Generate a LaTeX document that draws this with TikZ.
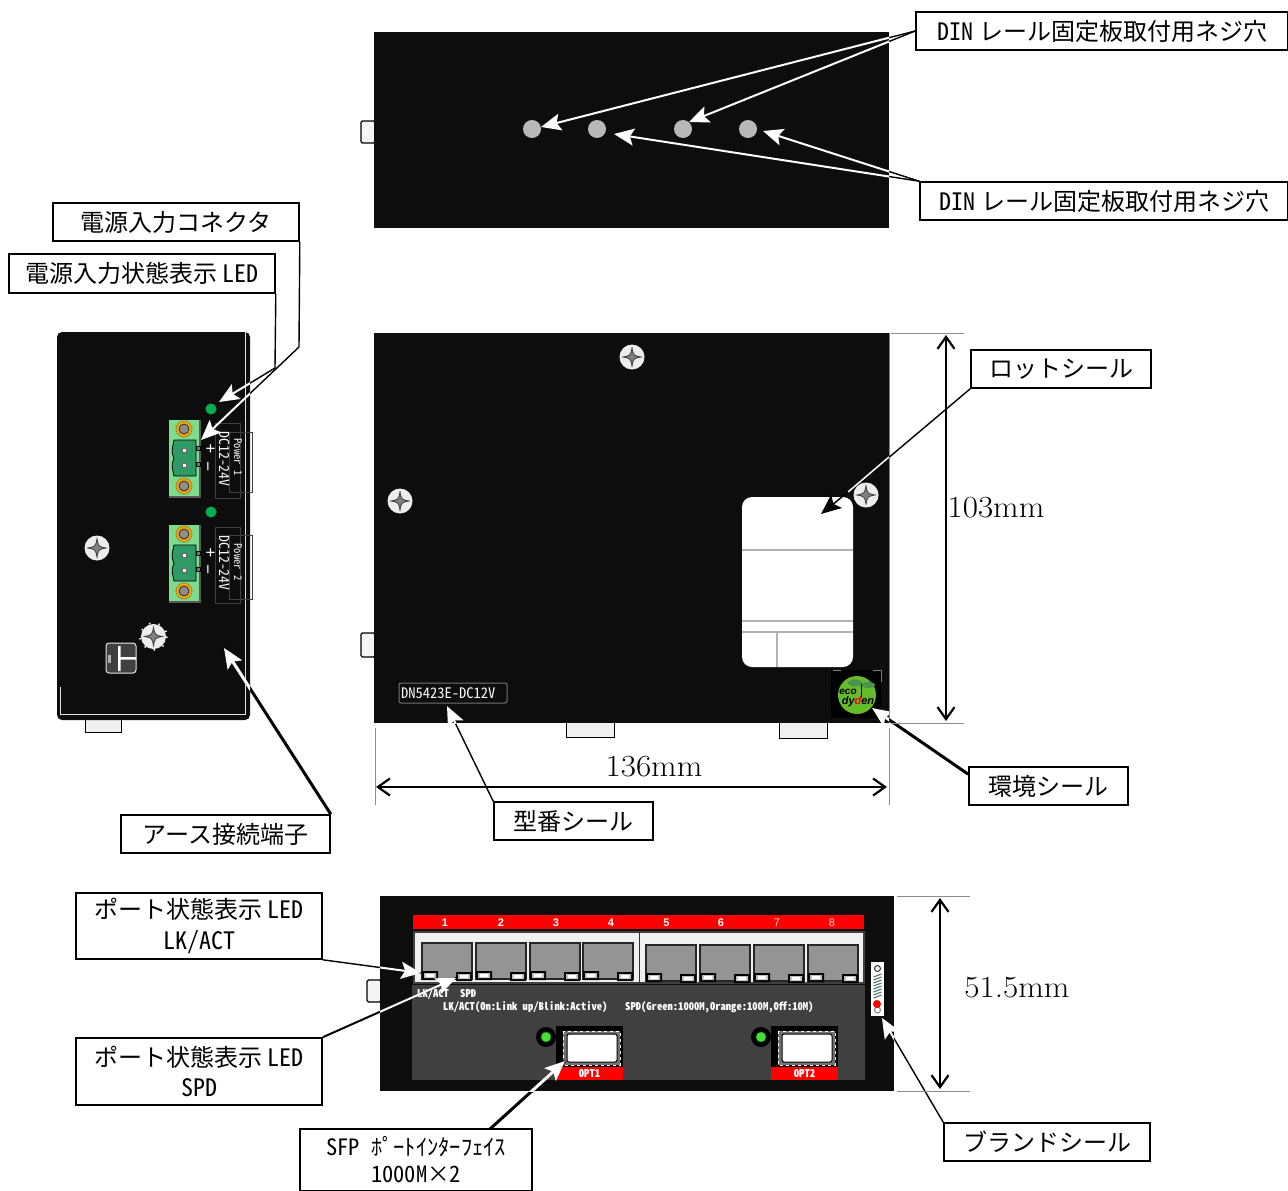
\documentclass[tikz,border=0pt]{standalone}
\usepackage{fontspec}
\usetikzlibrary{arrows.meta}
\newfontfamily\jp{Noto Sans CJK JP}
\newfontfamily\hw[RawFeature=+hwid]{Noto Sans CJK JP}
\newfontfamily\logofont{Liberation Sans}
\definecolor{dev}{HTML}{0D0D0D}
\definecolor{panel}{HTML}{404040}
\definecolor{conn}{HTML}{7EDC8F}
\definecolor{connd}{HTML}{2F9A66}
\definecolor{gear}{HTML}{E8A818}
\definecolor{ledg}{HTML}{00B050}
\definecolor{sfpg}{HTML}{48E038}
\definecolor{ecog}{HTML}{66BB2A}
\definecolor{spring}{HTML}{4F7272}
\newcommand\dimtxt[1]{\scalebox{1.08}[1]{#1}}
\tikzset{
  x=1pt,y=-1pt,
  label box/.style={draw=black,line width=1.6pt,fill=white,inner sep=0pt,font=\jp\fontsize{24}{29}\selectfont,align=center},
  dim text/.style={inner sep=0pt,font=\fontsize{30.7}{32}\selectfont},
  dim line/.style={draw=black!45,line width=1pt},
  dim arrow/.style={draw=black,line width=2.6pt,{Straight Barb[length=12pt,width=17pt,line width=2.2pt]}-{Straight Barb[length=12pt,width=17pt,line width=2.2pt]}},
  lead thin/.style={draw=black,line width=1.4pt},
  lead white/.style={draw=white,line width=2pt,-{Stealth[length=20pt,width=17pt,inset=4pt,fill=white]}},
  lead thick/.style={line width=3pt},
  tabbox/.style={draw=black,line width=1pt,fill=black!6},
  bump/.style={draw=black,line width=1.3pt,fill=black!4,rounded corners=1.5pt},
  tiny white/.style={text=white,inner sep=0pt,font=\hw\bfseries\fontsize{10.6}{12}\selectfont},
  port num/.style={text=white,inner sep=0pt,font=\logofont\bfseries\fontsize{11}{11}\selectfont},
  rot small/.style={text=white,inner sep=0pt,rotate=-90,font=\hw\fontsize{10.6}{12}\selectfont},
  rot big/.style={text=white,inner sep=0pt,rotate=-90,font=\hw\fontsize{13.8}{15}\selectfont},
  sign/.style={text=white,inner sep=0pt,font=\logofont\fontsize{17}{17}\selectfont},
  screw/.pic={
    \fill[black!7] (0,0) circle[radius=12.5];
    \fill[black!50,draw=black!75,line width=.8pt] (0,-9) .. controls (1.5,-1.5) .. (9,0) .. controls (1.5,1.5) .. (0,9) .. controls (-1.5,1.5) .. (-9,0) .. controls (-1.5,-1.5) .. (0,-9) -- cycle;
  },
  geardot/.pic={
    \fill[gear] (0,0) circle[radius=8];
    \draw[gear!70!black,line width=1.2pt,dash pattern=on 1pt off 1pt] (0,0) circle[radius=8];
    \fill[black!45,draw=black,line width=.5pt] (0,0) circle[radius=5];
  },
  terminal/.pic={
    \fill[conn] (0,0) rectangle (31,77);
    \draw[black!65,line width=1.2pt] (0,77) -- (31,77) -- (31,0);
    \fill[connd,draw=black,line width=.8pt] (5,20) -- (27,20) -- (27,56) -- (5,56) .. controls (3,46) and (2,46) .. (5,38.5) .. controls (2,30) and (3,30) .. (5,20) -- cycle;
    \draw[black,line width=.6pt,fill=connd] (27,26) rectangle (31,30) (27,42) rectangle (31,46);
    \fill[white,draw=black!60,line width=.4pt] (13,28) rectangle (17,32) (13,43) rectangle (17,47);
    \pic at (15,9) {geardot};
    \pic at (15,66) {geardot};
  },
  jack/.pic={
    \fill[black!42,draw=black!85,line width=1.4pt] (0,0) -- (50,0) -- (50,36) -- (0,36) -- cycle;
    \fill[black] (0,28) rectangle (16,37) (34,29) rectangle (50,38);
    \fill[black!25] (2,30) rectangle (14,35) (36,31) rectangle (48,36);
    \fill[white] (4,31) rectangle (12,34) (38,32) rectangle (46,35);
  },
  sfp/.pic={
    \fill[black] (-10,9) circle[radius=10];
    \fill[black] (0,-2) rectangle (67,39);
    \fill[sfpg,draw=black!40!green,line width=.5pt] (-10,9) circle[radius=5];
    \fill[black!55] (7,3) rectangle (64,37);
    \draw[white,line width=1pt,dash pattern=on 3pt off 3pt] (7,3) rectangle (64,37);
    \fill[white,draw=black,line width=1pt,rounded corners=2pt] (11,6) rectangle (61,34);
  },
}
\newcommand\leadline[4][]{%
  \draw[lead thin,#1] (#2) -- (#3);
  \begin{scope}\clip #4;\draw[lead white,#1] (#2) -- (#3);\end{scope}}
\def\devA{(374,32) rectangle (889,228)}
\def\devB{(374,333) rectangle (889,723)}
\def\devC{(57,332) rectangle (250,720)}
\def\devD{(380,896) rectangle (894,1091)}
\begin{document}
\begin{tikzpicture}
\useasboundingbox (0,0) rectangle (1288,1191);
\fill[white] (0,0) rectangle (1288,1191);
% top view
\draw[bump] (361,121) rectangle (375,143);
\fill[dev] \devA;
\foreach \hx in {532,597,683,748}{\fill[black!28] (\hx,129) circle[radius=9];}
% main view
\draw[bump] (361,633) rectangle (375,657);
\draw[tabbox] (566,722) rectangle (614,737);
\draw[tabbox] (779,722) rectangle (827,738);
\fill[dev] \devB;
\draw[black!50,line width=1pt] (889,333) -- (889,723);
\pic at (632,357) {screw};
\pic at (400,501) {screw};
\pic at (866,495) {screw};
\fill[white,rounded corners=10pt] (742,497) rectangle (853,667);
\draw[black!30,line width=1.2pt] (742,550) -- (853,550) (742,621) -- (853,621) (742,632) -- (853,632) (777,632) -- (777,667);
\node[text=white,draw=black!55,line width=1pt,rounded corners=2pt,minimum width=108pt,minimum height=20pt,inner sep=0pt,font=\hw\fontsize{14.5}{16}\selectfont] (model) at (453,693) {\makebox[106pt][l]{\hspace{1pt}DN5423E-DC12V}};
% eco sticker
\fill[black] (831,670) rectangle (881,718);
\draw[black!50,line width=.8pt] (833,670) -- (841,670) (873,670) -- (881,670) -- (881,682);
\fill[ecog] (857,695) circle[radius=19];
\fill[black!60!green!70!white] (855,683) ellipse[x radius=7,y radius=3.5];
\fill[black!60!green!70!white] (868,685) ellipse[x radius=7,y radius=3];
\draw[black,line width=1pt] (861,684) -- (861,698);
\node[inner sep=0pt,font=\logofont\bfseries\itshape\fontsize{10}{10}\selectfont] (ecotxt) at (848,692) {eco};
\node[inner sep=0pt,font=\logofont\bfseries\itshape\fontsize{11}{11}\selectfont] (dydentxt) at (858,702) {dy\textcolor{red}{d}en};
% side view
\draw[tabbox] (85,719) rectangle (121,732);
\fill[dev,rounded corners=5pt] (57,332) rectangle (250,720);
\draw[black!12,line width=1pt] (60,687) -- (60,714) -- (245.5,714) -- (245.5,332);
\fill[ledg] (211,409) circle[radius=5.5];
\fill[ledg] (211,512) circle[radius=5.5];
\pic at (169,420) {terminal};
\pic at (169,525) {terminal};
\draw[black!75,line width=1pt] (215,423) rectangle (240,498) (229,432) rectangle (252,492);
\draw[black!75,line width=1pt] (215,527) rectangle (240,603) (229,535) rectangle (252,599);
\node[sign] (p1) at (210.5,450) {+};
\node[sign,rotate=90] (m1) at (210.5,467) {−};
\node[sign] (p2) at (210.5,554) {+};
\node[sign,rotate=90] (m2) at (210.5,570) {−};
\node[rot big] (dc1) at (225,459) {DC12-24V};
\node[rot big] (dc2) at (225,563) {DC12-24V};
\node[rot small] (pw1) at (238,457) {Power 1};
\node[rot small] (pw2) at (238,562) {Power 2};
\pic at (97,548) {screw};
\draw[white,line width=1.5pt,dash pattern=on 1.5pt off 8.3pt] (153.5,636.5) circle[radius=13.5];
\pic at (153.5,636.5) {screw};
\fill[panel,draw=black!10,line width=1pt,rounded corners=3pt] (106,643) rectangle (136,673);
\fill[black!30] (108,655) rectangle (110.5,663);
\fill[white] (118,646) rectangle (120.5,671) (120.5,657) rectangle (136,659.5);
% front view
\draw[bump] (367,980) rectangle (381,1002);
\fill[dev] \devD;
\fill[panel] (412,985) rectangle (865,1080);
\fill[red] (413,915) rectangle (864,929);
\foreach \nx/\nt in {445/1,501/2,556/3,611/4,666.5/5,721/6}{\node[port num] (n\nt) at (\nx,923) {\nt};}
\foreach \nx/\nt in {777/7,832/8}{\node[port num,text=white!85!red,font=\logofont\fontsize{11}{11}\selectfont] (n\nt) at (\nx,923) {\nt};}
\fill[black!6,draw=black!75,line width=1.4pt] (414,932) rectangle (864,983);
\draw[black!80,line width=1pt] (639,932) -- (639,983);
\foreach \jx in {422,476,530,583}{\pic at (\jx,943) {jack};}
\foreach \jx in {646,700,754,808}{\pic at (\jx,945) {jack};}
\node[tiny white,anchor=west] (leg1) at (417,994) {LK/ACT};
\node[tiny white,anchor=west] (leg2) at (460,994) {SPD};
\node[tiny white,anchor=west] (leg3) at (443,1007) {LK/ACT(On:Link up/Blink:Active)};
\node[tiny white,anchor=west] (leg4) at (625,1007) {SPD(Green:1000M,Orange:100M,Off:10M)};
\pic at (556,1028) {sfp};
\pic at (771,1028) {sfp};
\fill[red] (556,1067) rectangle (623,1080);
\fill[red] (771,1067) rectangle (838,1080);
\node[tiny white] (opt1) at (589.5,1074) {OPT1};
\node[tiny white] (opt2) at (804.5,1074) {OPT2};
% brand sticker
\fill[white] (871,962) rectangle (884,1016);
\draw[black!80,line width=1pt] (877.5,968.5) circle[radius=3];
\foreach \sy in {974,977,...,995}{\draw[spring,line width=1.1pt] (873.5,\sy+3) -- (881.5,\sy);}
\draw[black!50,line width=1pt] (877.5,1010) circle[radius=3];
\fill[red] (877,1004) circle[radius=4];
% labels
\node[label box,minimum width=372pt,minimum height=38pt] (din1) at (1102,31) {{\hw DIN}\hspace{6pt}レール固定板取付用ネジ穴};
\node[label box,minimum width=368pt,minimum height=38pt] (din2) at (1104,201) {{\hw DIN}\hspace{6pt}レール固定板取付用ネジ穴};
\node[label box,minimum width=246pt,minimum height=38pt] (pwrc) at (176,222) {電源入力コネクタ};
\node[label box,minimum width=266pt,minimum height=39pt] (pwrl) at (142,273.5) {電源入力状態表示 {\hw LED}};
\node[label box,minimum width=180pt,minimum height=38pt] (lot) at (1061,369) {ロットシール};
\node[label box,minimum width=159pt,minimum height=38pt] (env) at (1048.5,786) {環境シール};
\node[label box,minimum width=159pt,minimum height=38pt] (mdl) at (573.5,821) {型番シール};
\node[label box,minimum width=209pt,minimum height=38pt] (earth) at (225.5,834) {アース接続端子};
\node[label box,minimum width=246pt,minimum height=66pt] (lkact) at (199,926) {ポート状態表示 {\hw LED}\\[1.5pt]{\hw LK/ACT}};
\node[label box,minimum width=246pt,minimum height=67pt] (spd) at (199,1071.5) {ポート状態表示 {\hw LED}\\[1.5pt]{\hw SPD}};
\node[label box,minimum width=232pt,minimum height=62pt,font=\jp\fontsize{22.5}{27}\selectfont] (sfpl) at (416,1160) {{\hw SFP }ﾎﾟｰﾄｲﾝﾀｰﾌｪｲｽ\\{\hw 1000M}×{\hw 2}};
\node[label box,minimum width=206pt,minimum height=38pt] (brand) at (1047,1142) {ブランドシール};
% free ends
\coordinate (t1) at (541,127);
\coordinate (t2) at (689,122);
\coordinate (t3) at (614,134);
\coordinate (t4) at (763,131);
\coordinate (tpwrl) at (219,402);
\coordinate (tpwrc) at (201,440);
\coordinate (bpwrl) at (275,368);
\coordinate (bpwrc) at (299,347);
\coordinate (tearth) at (224,648);
\coordinate (tenv) at (872,708);
\coordinate (tmdl) at (447,706);
\coordinate (tlk) at (421,973);
\coordinate (tspd) at (456,978);
\coordinate (tsfp) at (565,1061);
\coordinate (tbrand) at (882,1018);
\coordinate (tlot) at (821,514);
\coordinate (mlot) at (848,492);
\coordinate (ssfp) at (490,1129);
% connectors
\leadline{din1.west}{t1}{\devA}
\leadline{din1.west}{t2}{\devA}
\leadline{din2.north west}{t3}{\devA}
\leadline{din2.north west}{t4}{\devA}
\draw[lead thin] (pwrl.south east) -- (bpwrl) -- (tpwrl);
\draw[lead thin] (pwrc.south east) -- (bpwrc) -- (tpwrc);
\begin{scope}\clip \devC;
\draw[lead white] (bpwrl) -- (tpwrl);
\draw[lead white] (bpwrc) -- (tpwrc);
\end{scope}
\leadline[lead thick]{earth.north east}{tearth}{\devC}
\leadline[lead thick]{[yshift=-8pt]env.north west}{tenv}{\devB}
\leadline{mdl.north west}{tmdl}{\devB}
\draw[lead thin] (lot.south west) -- (mlot);
\draw[white,line width=1.5pt] (889,457) -- (mlot);
\draw[black,line width=1.5pt,-{Stealth[length=20pt,width=17pt,inset=4pt]}] (mlot) -- (tlot);
\leadline{lkact.south east}{tlk}{\devD}
\leadline[line width=2pt]{spd.north east}{tspd}{\devD}
\leadline[lead thick]{ssfp}{tsfp}{\devD}
\leadline{brand.north west}{tbrand}{\devD}
% dimensions
\coordinate (d1a) at (946,335);
\coordinate (d1b) at (946,721);
\coordinate (d2a) at (376,787);
\coordinate (d2b) at (887,787);
\coordinate (d3a) at (940,898);
\coordinate (d3b) at (940,1089);
\draw[dim line] (891,333) -- (964,333) (891,723) -- (964,723);
\draw[dim line] (375,728) -- (375,805) (889,728) -- (889,805);
\draw[dim line] (897,896) -- (970,896) (897,1091) -- (970,1091);
\draw[dim arrow] (d1a) -- (d1b);
\draw[dim arrow] (d2a) -- (d2b);
\draw[dim arrow] (d3a) -- (d3b);
\node[dim text] (dt1) at (996,508) {\dimtxt{103mm}};
\node[dim text] (dt2) at (654,767) {\dimtxt{136mm}};
\node[dim text] (dt3) at (1017,988) {\dimtxt{51.5mm}};
\end{tikzpicture}
\end{document}
